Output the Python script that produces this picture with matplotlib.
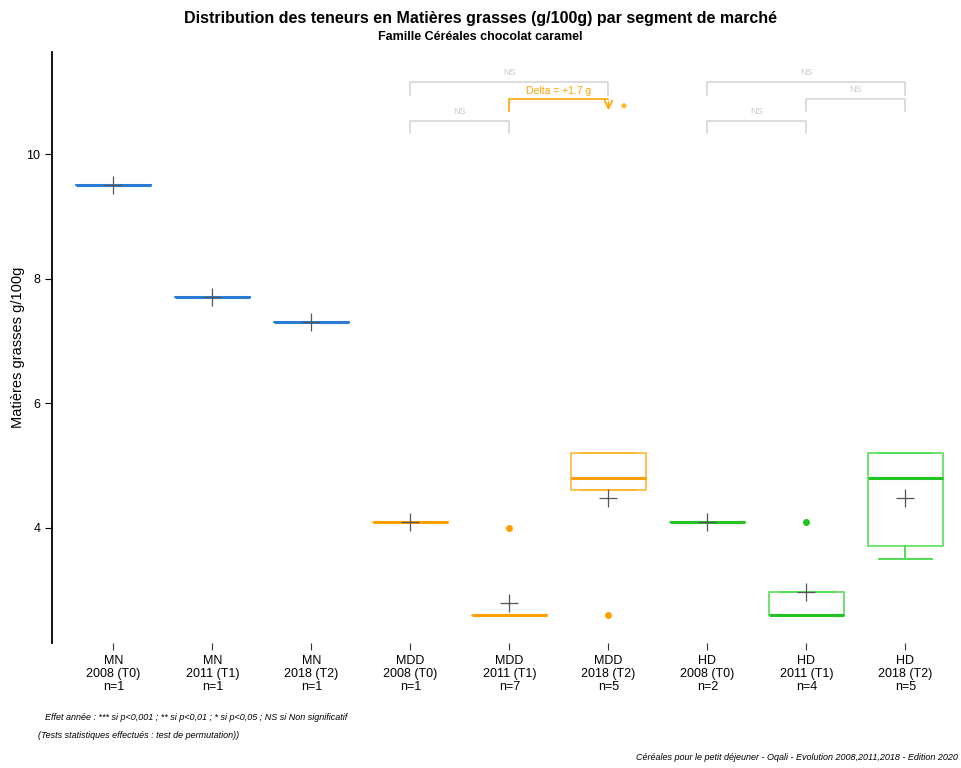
import matplotlib
matplotlib.use("Agg")
import matplotlib.pyplot as plt
import numpy as np
from matplotlib import font_manager

fams = {f.name for f in font_manager.fontManager.ttflist}
base = 'Liberation Sans Narrow' if 'Liberation Sans Narrow' in fams else 'Liberation Sans'
plt.rcParams['font.family'] = [base, 'DejaVu Sans']

# ---- data ----
segments = ["MN", "MN", "MN", "MDD", "MDD", "MDD", "HD", "HD", "HD"]
years = ["2008 (T0)", "2011 (T1)", "2018 (T2)"] * 3
mn_2008 = [9.5]
mn_2011 = [7.7]
mn_2018 = [7.3]
mdd_2008 = [4.1]
mdd_2011 = [2.6, 2.6, 2.6, 2.6, 2.6, 2.6, 4.0]
mdd_2018 = [2.6, 4.6, 4.8, 5.2, 5.2]
hd_2008 = [4.1, 4.1]
hd_2011 = [2.6, 2.6, 2.6, 4.1]
hd_2018 = [3.5, 3.7, 4.8, 5.2, 5.2]
groups = [mn_2008, mn_2011, mn_2018, mdd_2008, mdd_2011, mdd_2018, hd_2008, hd_2011, hd_2018]
# significance tests: (i, j, label, highlighted)
tests = [(4, 5, "NS", False), (4, 6, "NS", False), (5, 6, "*", True),
         (7, 8, "NS", False), (7, 9, "NS", False), (8, 9, "NS", False)]

seg_colors = {"MN": ("#2a7bd4", "#2a7bd4"), "MDD": ("#ffb733", "#ff9f00"), "HD": ("#55dd55", "#22c322")}

fig = plt.figure(figsize=(9.61, 7.68), dpi=100)
ax = fig.add_axes([52/961, 1-643/768, (955-52)/961, (643-52)/768])

pos = np.arange(1, len(groups)+1)
bp = ax.boxplot(groups, positions=pos, widths=0.76, showmeans=True, whis=1.5,
                meanprops=dict(marker='+', markeredgecolor='#555555', markersize=13, markeredgewidth=0.9))
for k, seg in enumerate(segments):
    edge, strong = seg_colors[seg]
    bp['boxes'][k].set(color=edge, linewidth=1.4, alpha=0.85)
    bp['medians'][k].set(color=strong, linewidth=2.2)
    for w in bp['whiskers'][2*k:2*k+2]:
        w.set(color=edge, linewidth=1.4, linestyle='-')
    for c in bp['caps'][2*k:2*k+2]:
        c.set(color=edge, linewidth=1.4)
        xd = c.get_xdata()
        cx = (xd[0]+xd[1])/2
        c.set_xdata([cx-0.27, cx+0.27])
    bp['fliers'][k].set(marker='o', markerfacecolor=strong, markeredgecolor=strong, markersize=4)
for m in bp['means']:
    m.set_zorder(5)

ax.set_xlim(0.38, 9.5)
ax.set_ylim(2.15, 11.64)
ax.set_yticks([4, 6, 8, 10])
ax.set_xticks(pos)
ax.set_xticklabels([f"{s}\n{y}\nn={len(g)}" for s, y, g in zip(segments, years, groups)], fontsize=9,
                   linespacing=1.1)
ax.tick_params(axis='x', length=5, width=0.8, color='#333333', pad=4)
ax.tick_params(axis='y', labelsize=9, length=5)
for sp in ['top', 'right', 'bottom']:
    ax.spines[sp].set_visible(False)
ax.spines['left'].set_linewidth(1.3)
ax.set_ylabel("Matières grasses g/100g", fontsize=10.5)
ax.yaxis.set_label_coords((25-52)/903, 0.5)

# significance brackets
grey = '#d2d2d2'
orange = '#ffa500'
levels = {1: (10.53, 10.34), 2: (11.16, 10.95)}
for i, j, lab, hl in tests:
    span = j - i
    if hl:
        y, yl = 10.88, 10.70
        ax.plot([i, i, j], [yl, y, y], color=orange, lw=1.2)
        ax.annotate("", xy=(j, 10.66), xytext=(j, y),
                    arrowprops=dict(arrowstyle='->', color=orange, lw=1.2, mutation_scale=14))
        d = np.mean(groups[j-1]) - np.mean(groups[i-1])
        ax.text((i+j)/2, y+0.06, f"Delta = +{d:.1f} g", color=orange, fontsize=7.5, ha='center', va='bottom')
        ax.text(j+0.16, 10.74, lab, color=orange, fontsize=11, fontweight='bold', ha='center', va='center')
    else:
        if span == 2:
            y, yl = levels[2]
        elif i in (4, 7):
            y, yl = levels[1]
        else:
            y, yl = 10.88, 10.70
        ax.plot([i, i, j, j], [yl, y, y, yl], color=grey, lw=1.1)
        ax.text((i+j)/2, y+0.08, lab, color='#c8c8c8', fontsize=6.5, ha='center', va='bottom')

fig.text(0.5, 1-18/768, "Distribution des teneurs en Matières grasses (g/100g) par segment de marché",
         ha='center', va='center', fontsize=11.5, fontweight='bold')
fig.text(0.5, 1-37/768, "Famille Céréales chocolat caramel", ha='center', va='center', fontsize=9, fontweight='bold')
fig.text(45/961, 1-718/768, "Effet année : *** si p<0,001 ; ** si p<0,01 ; * si p<0,05 ; NS si Non significatif",
         ha='left', va='center', fontsize=6.5, style='italic')
fig.text(38/961, 1-735/768, "(Tests statistiques effectués : test de permutation))",
         ha='left', va='center', fontsize=6.5, style='italic')
fig.text(958/961, 1-758/768, "Céréales pour le petit déjeuner - Oqali - Evolution 2008,2011,2018 - Edition 2020",
         ha='right', va='center', fontsize=6.5, style='italic')

fig.savefig("out.png", dpi=100)
